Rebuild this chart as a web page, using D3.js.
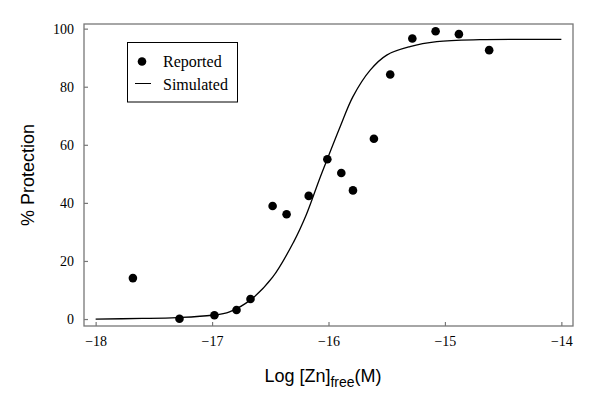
<!DOCTYPE html>
<html>
<head>
<meta charset="utf-8">
<script src="https://cdn.jsdelivr.net/npm/d3@7"></script>
<style>
body { margin: 0; background: #fff; }
svg { display: block; }
</style>
</head>
<body>
<svg id="chart" width="600" height="411"></svg>
<script>
// reported points (log [Zn]free, % protection)
const reportedX = [-17.68, -17.28, -16.98, -16.79, -16.67, -16.48, -16.36, -16.17, -16.01, -15.89, -15.79, -15.61, -15.47, -15.28, -15.08, -14.88, -14.62];
const reportedY = [14.1, 0.1, 1.3, 3.1, 6.9, 38.9, 36.1, 42.4, 55.0, 50.3, 44.3, 62.1, 84.2, 96.6, 99.1, 98.1, 92.6];

// simulated curve
const simX = [-18, -17.6, -17.3, -17.0, -16.85, -16.67, -16.48, -16.30, -16.19, -16.08, -16.01, -15.90, -15.79, -15.64, -15.50, -15.30, -15.07, -14.70, -14.30, -14.0];
const simY = [0, 0.2, 0.5, 1.3, 2.5, 6.6, 14.4, 26.5, 36.0, 47.9, 55.1, 66.2, 76.6, 85.8, 90.9, 93.8, 95.5, 96.2, 96.3, 96.3];

const xTicks = [-18, -17, -16, -15, -14];
const yTicks = [0, 20, 40, 60, 80, 100];
const legendLabels = ["Reported", "Simulated"];

const svg = d3.select("#chart");
const box = {left: 84, right: 573, top: 24, bottom: 326};

const x = d3.scaleLinear().domain([-18.1, -13.9]).range([box.left, box.right]);
const y = d3.scaleLinear().domain([-2.4, 101.6]).range([box.bottom, box.top]);

const serif = "'Liberation Serif', 'Times New Roman', serif";
const sans = "'Liberation Sans', Arial, sans-serif";
const frameColor = "#777";

// frame
svg.append("rect")
  .attr("x", box.left).attr("y", box.top)
  .attr("width", box.right - box.left).attr("height", box.bottom - box.top)
  .attr("fill", "none").attr("stroke", frameColor).attr("stroke-width", 1.3);

// axes with inward ticks
const xAxis = svg.append("g")
  .attr("transform", `translate(0,${box.bottom})`)
  .call(d3.axisBottom(x).tickValues(xTicks).tickSizeInner(-4).tickSizeOuter(0)
    .tickFormat(d => "\u2212" + Math.abs(d)));
xAxis.select(".domain").remove();
xAxis.selectAll("line").attr("stroke", frameColor).attr("stroke-width", 1.2);
xAxis.selectAll("text").attr("y", 10).attr("dy", "0.71em")
  .style("font-family", serif).style("font-size", "14px").attr("fill", "#000");

const yAxis = svg.append("g")
  .attr("transform", `translate(${box.left},0)`)
  .call(d3.axisLeft(y).tickValues(yTicks).tickSizeInner(-4).tickSizeOuter(0));
yAxis.select(".domain").remove();
yAxis.selectAll("line").attr("stroke", frameColor).attr("stroke-width", 1.2);
yAxis.selectAll("text").attr("x", -10)
  .style("font-family", serif).style("font-size", "14px").attr("fill", "#000");

// simulated line
const simData = simX.map((d, i) => ({x: d, y: simY[i]}));
svg.append("path")
  .datum(simData)
  .attr("fill", "none").attr("stroke", "#000").attr("stroke-width", 1.3)
  .attr("d", d3.line().x(d => x(d.x)).y(d => y(d.y)).curve(d3.curveCatmullRom.alpha(0.5)));

// reported points
const repData = reportedX.map((d, i) => ({x: d, y: reportedY[i]}));
svg.selectAll(".pt")
  .data(repData)
  .join("circle")
  .attr("class", "pt")
  .attr("cx", d => x(d.x)).attr("cy", d => y(d.y))
  .attr("r", 4.3).attr("fill", "#000");

// legend
const lg = svg.append("g");
lg.append("rect")
  .attr("x", 127.5).attr("y", 42.5).attr("width", 110).attr("height", 59.5)
  .attr("fill", "#fff").attr("stroke", "#000").attr("stroke-width", 1);
lg.append("circle").attr("cx", 142).attr("cy", 61.5).attr("r", 4.3).attr("fill", "#000");
lg.append("line").attr("x1", 135).attr("x2", 151).attr("y1", 83.5).attr("y2", 83.5)
  .attr("stroke", "#000").attr("stroke-width", 1);
lg.selectAll(".lt")
  .data(legendLabels)
  .join("text")
  .attr("class", "lt")
  .attr("x", 163).attr("y", (d, i) => 67 + i * 22.5)
  .style("font-family", serif).style("font-size", "16px")
  .text(d => d);

// axis titles
const xt = svg.append("text")
  .attr("x", 323).attr("y", 382)
  .attr("text-anchor", "middle")
  .style("font-family", sans).style("font-size", "18px");
xt.append("tspan").text("Log [Zn]");
xt.append("tspan").attr("dy", 5).style("font-size", "14px").text("free");
xt.append("tspan").attr("dy", -5).text("(M)");

svg.append("text")
  .attr("transform", "translate(34,175) rotate(-90)")
  .attr("text-anchor", "middle")
  .style("font-family", sans).style("font-size", "18px")
  .text("% Protection");
</script>
</body>
</html>
